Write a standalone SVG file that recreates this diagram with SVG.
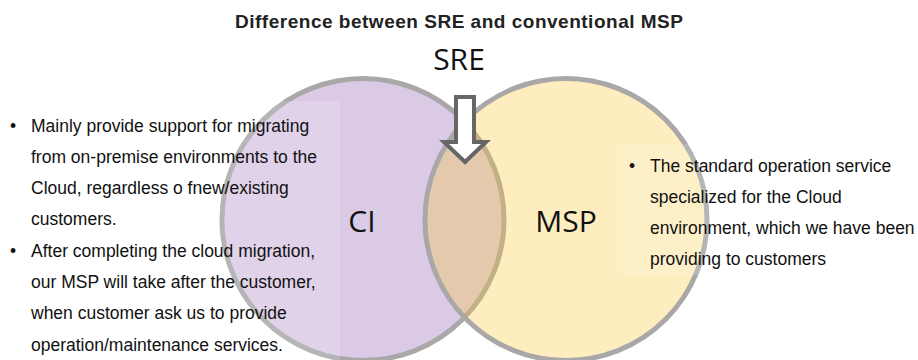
<svg xmlns="http://www.w3.org/2000/svg" width="918" height="360" viewBox="0 0 918 360">
<style>
.title{font-family:"Liberation Sans",Arial,sans-serif;font-size:19px;font-weight:bold;fill:#222}
.lbl{font-family:"Open Sans","Noto Sans",sans-serif;font-size:30px;fill:#111}
.body{font-family:"Liberation Sans",Arial,sans-serif;font-size:17.5px;fill:#111}
.circ{stroke:#a9a7a8;stroke-width:5}
.box{fill:#ffffff;fill-opacity:0.16}
</style>
<rect width="918" height="360" fill="#ffffff"/>
<text class="title" x="235" y="28" textLength="448" lengthAdjust="spacing">Difference between SRE and conventional MSP</text>
<g id="ci">
<circle class="circ" cx="363" cy="219.5" r="141" fill="#dbcae5"/>
</g>
<g id="msp">
<circle class="circ" cx="566" cy="219.5" r="141" fill="#f9c739" fill-opacity="0.32"/>
</g>
<g id="left-text">
<rect class="box" x="0" y="101" width="340" height="259"/>
<g class="body">
<text x="10" y="131.5">•</text>
<text x="31" y="131.5">Mainly provide support for migrating</text>
<text x="31" y="162.8">from on-premise environments to the</text>
<text x="31" y="194.1">Cloud, regardless o fnew/existing</text>
<text x="31" y="225.4">customers.</text>
<text x="10" y="256.7">•</text>
<text x="31" y="256.7">After completing the cloud migration,</text>
<text x="31" y="288">our MSP will take after the customer,</text>
<text x="31" y="319.3">when customer ask us to provide</text>
<text x="31" y="350.6">operation/maintenance services.</text>
</g>
</g>
<g id="right-text">
<rect class="box" x="622" y="144" width="296" height="131"/>
<g class="body">
<text x="629" y="172">•</text>
<text x="650" y="172">The standard operation service</text>
<text x="650" y="203">specialized for the Cloud</text>
<text x="650" y="234">environment, which we have been</text>
<text x="650" y="265">providing to customers</text>
</g>
</g>
<text class="lbl" x="362" y="232" text-anchor="middle">CI</text>
<text class="lbl" x="566" y="232" text-anchor="middle">MSP</text>
<g id="sre">
<text class="lbl" x="459" y="70" text-anchor="middle">SRE</text>
</g>
<g id="connectors">
<path d="M456,97 L474,97 L474,142 L486,142 L465,162 L444,142 L456,142 Z" fill="#ffffff" stroke="#666666" stroke-width="4"/>
</g>
</svg>
